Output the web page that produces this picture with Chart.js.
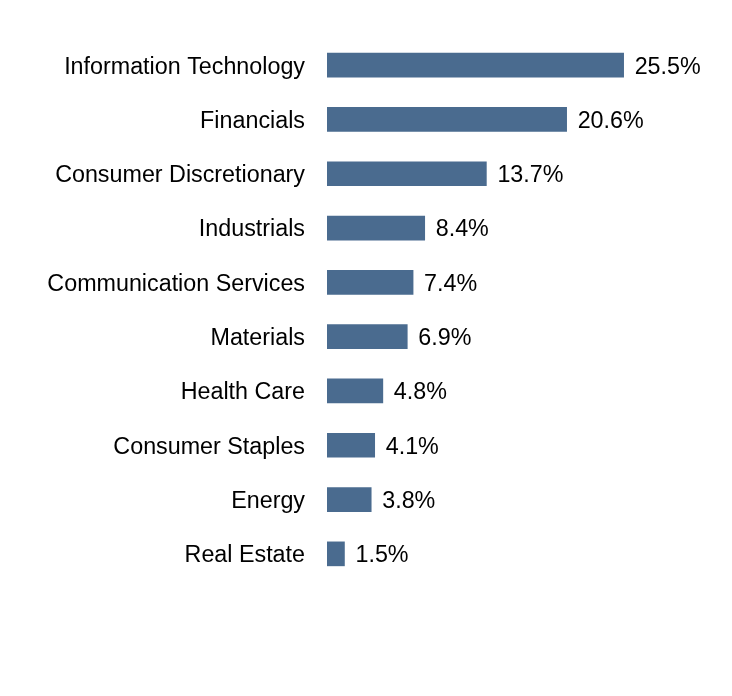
<!DOCTYPE html>
<html>
<head>
<meta charset="utf-8">
<script src="https://cdn.jsdelivr.net/npm/chart.js@4/dist/chart.umd.min.js"></script>
<style>
  html, body { margin: 0; padding: 0; background: #fff; }
  #sectorChart { display: block; }
</style>
</head>
<body>
<canvas id="sectorChart" width="732" height="696"></canvas>
<script>
const sectors = [
    'Information Technology',
    'Financials',
    'Consumer Discretionary',
    'Industrials',
    'Communication Services',
    'Materials',
    'Health Care',
    'Consumer Staples',
    'Energy',
    'Real Estate'
];
const weights = [25.5, 20.6, 13.7, 8.4, 7.4, 6.9, 4.8, 4.1, 3.8, 1.5];

const FONT = "'Liberation Sans', Arial, sans-serif";
const FONT_SIZE = 23.3;

// writes the percentage just past the end of each bar
const valueLabels = {
    id: 'valueLabels',
    afterDatasetsDraw(chart) {
        const ctx = chart.ctx;
        const meta = chart.getDatasetMeta(0);
        ctx.save();
        ctx.font = FONT_SIZE + 'px ' + FONT;
        ctx.fillStyle = '#000';
        ctx.textAlign = 'left';
        ctx.textBaseline = 'middle';
        meta.data.forEach((bar, i) => {
            ctx.fillText(weights[i].toFixed(1) + '%', bar.x + 11, bar.y + 2);
        });
        ctx.restore();
    }
};

document.addEventListener('DOMContentLoaded', function() {
    const ctx = document.getElementById('sectorChart').getContext('2d');
    new Chart(ctx, {
        type: 'bar',
        data: {
            labels: sectors,
            datasets: [{
                data: weights,
                backgroundColor: '#4a6b8f',
                barThickness: 24
            }]
        },
        options: {
            indexAxis: 'y',
            responsive: false,
            animation: false,
            layout: {
                padding: { top: 38, bottom: 115, left: 0, right: 56 }
            },
            plugins: {
                legend: { display: false },
                tooltip: { enabled: false }
            },
            scales: {
                x: {
                    display: false,
                    min: 0,
                    max: 30
                },
                y: {
                    afterFit(scale) { scale.width = 327; },
                    grid: { display: false, drawTicks: false },
                    border: { display: false },
                    ticks: {
                        padding: 22,
                        labelOffset: 2,
                        color: '#000',
                        font: { family: FONT, size: FONT_SIZE }
                    }
                }
            }
        },
        plugins: [valueLabels]
    });
});
</script>
</body>
</html>
